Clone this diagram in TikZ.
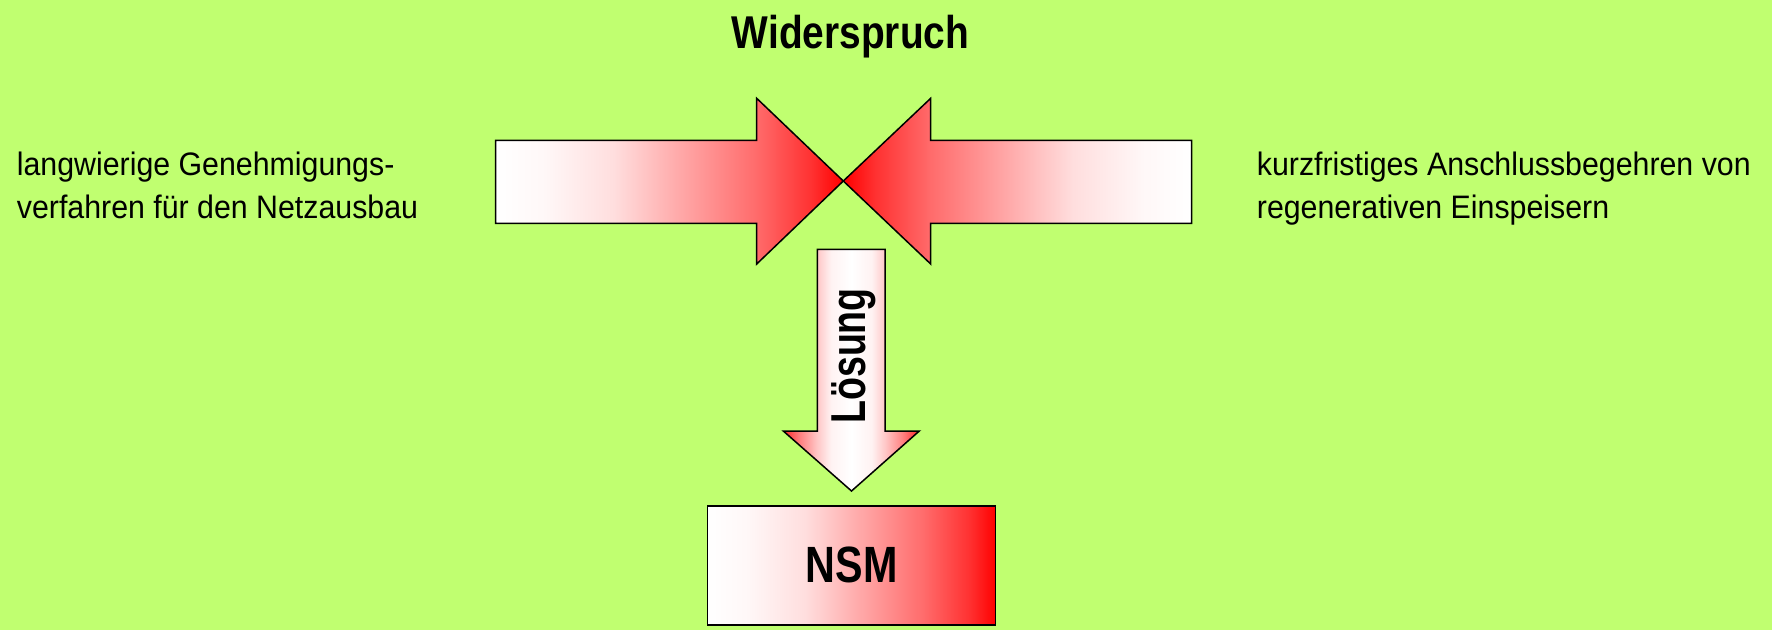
\documentclass[tikz,border=0pt]{standalone}
\usepackage{fontspec}
\setmainfont{Liberation Sans}
\usepackage{graphicx}
\definecolor{bggreen}{RGB}{192,255,112}
\pgfdeclarehorizontalshading{wr}{100bp}{color(0bp)=(white); color(25bp)=(white); color(32bp)=(red!3!white); color(42bp)=(red!13!white); color(51.5bp)=(red!34!white); color(62.5bp)=(red!58!white); color(70.5bp)=(red!81!white); color(75bp)=(red); color(100bp)=(red)}
\pgfdeclarehorizontalshading{rw}{100bp}{color(0bp)=(red); color(25bp)=(red); color(29.5bp)=(red!81!white); color(37.5bp)=(red!58!white); color(48.5bp)=(red!34!white); color(58bp)=(red!13!white); color(68bp)=(red!3!white); color(75bp)=(white); color(100bp)=(white)}
\pgfdeclarehorizontalshading{rwr}{100bp}{color(0bp)=(red!85!white); color(25bp)=(red!85!white); color(31bp)=(red!50!white); color(37.5bp)=(red!22!white); color(42.5bp)=(red!5!white); color(50bp)=(white); color(57.5bp)=(red!5!white); color(62.5bp)=(red!22!white); color(69bp)=(red!50!white); color(75bp)=(red!85!white); color(100bp)=(red!85!white)}
\tikzset{
  shapeline/.style={draw=black, line width=1.5pt, line join=miter},
  regtext/.style={inner sep=0pt, anchor=base west, font=\fontsize{32.5}{40}\selectfont},
  boldtext/.style={inner sep=0pt, font=\bfseries},
}
\begin{document}
\begin{tikzpicture}[x=1pt,y=-1pt]
\useasboundingbox (0,0) rectangle (1772,630);
\fill[bggreen] (0,0) rectangle (1772,630);
% title
\node[boldtext, anchor=base] (title) at (850.5,48.3) {\fontsize{46}{50}\selectfont\scalebox{0.845}[1]{Widerspruch}};
% left arrow
\draw[shapeline, shading=wr] (495.7,140.3) -- (756.7,140.3) -- (756.7,98.3) -- (843.3,181) -- (756.7,264) -- (756.7,223.3) -- (495.7,223.3) -- cycle;
% right arrow
\draw[shapeline, shading=rw] (1191.7,140.3) -- (930.7,140.3) -- (930.7,98.3) -- (843.3,181) -- (930.7,264) -- (930.7,223.3) -- (1191.7,223.3) -- cycle;
% down arrow
\draw[shapeline, shading=rwr] (817.3,249.3) -- (885,249.3) -- (885,431) -- (919.3,431) -- (851.5,491) -- (783.3,431) -- (817.3,431) -- cycle;
\node[boldtext, rotate=90, anchor=base west] (loesung) at (865,424) {\fontsize{49}{50}\selectfont\scalebox{0.767}[1]{Lösung}};
% NSM box
\draw[shapeline, shading=wr] (707.3,506) rectangle (995.7,625);
\node[boldtext, anchor=base west] (nsm) at (805.7,582.7) {\fontsize{51}{52}\selectfont\scalebox{0.81}[1]{NSM}};
% side texts
\node[regtext] (left1) at (16.7,175) {\scalebox{0.933}[1]{langwierige Genehmigungs-}};
\node[regtext] (left2) at (16.7,218.3) {\scalebox{0.933}[1]{verfahren für den Netzausbau}};
\node[regtext] (right1) at (1256.7,175) {\scalebox{0.933}[1]{kurzfristiges Anschlussbegehren von}};
\node[regtext] (right2) at (1256.7,218.3) {\scalebox{0.933}[1]{regenerativen Einspeisern}};
\end{tikzpicture}
\end{document}
